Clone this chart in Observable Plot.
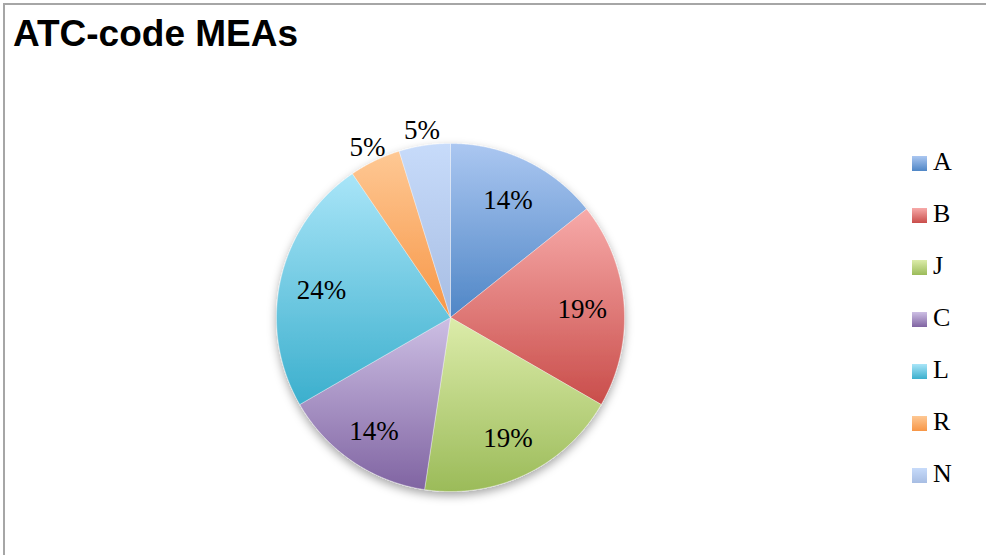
<!DOCTYPE html>
<html>
<head>
<meta charset="utf-8">
<script src="https://cdn.jsdelivr.net/npm/d3@7"></script>
<script src="https://cdn.jsdelivr.net/npm/@observablehq/plot@0.6"></script>
<style>
  html, body { margin: 0; padding: 0; background: #fff; }
  #wrap { position: relative; width: 986px; height: 555px; overflow: hidden; background: #fff; }
  #frame { position: absolute; left: 3px; top: 3px; width: 990px; height: 560px; border-top: 2px solid #a6a6a6; border-left: 2px solid #a6a6a6; box-sizing: border-box; }
  #title { position: absolute; left: 13px; top: 15px; font: bold 37px "Liberation Sans", Arial, sans-serif; line-height: 37px; color: #000; white-space: nowrap; }
  #chart { position: absolute; left: 0; top: 0; }
  #legend { position: absolute; left: 912px; top: 0; }
  .item { position: absolute; left: 0; display: flex; align-items: center; height: 26px; white-space: nowrap; }
  .sw { width: 15px; height: 15px; margin-right: 6px; margin-top: 2px; }
  .lt { font: 26px "Liberation Serif", "Times New Roman", serif; color: #000; line-height: 26px; }
</style>
</head>
<body>
<div id="wrap">
  <div id="frame"></div>
  <div id="chart"></div>
  <div id="title">ATC-code MEAs</div>
  <div id="legend"></div>
</div>
<script>
// ---- data ----
const categories = ["A", "B", "J", "C", "L", "R", "N"];
const counts = [3, 4, 4, 3, 5, 1, 1];
const pctLabels = ["14%", "19%", "19%", "14%", "24%", "5%", "5%"];
const topColors = ["#abc7f1", "#f7aaa9", "#dcecaa", "#cdbfe4", "#a9e5f8", "#fec894", "#c7dbfa"];
const bottomColors = ["#4f86c6", "#c94d4a", "#9bbb59", "#8064a2", "#3bafcd", "#f79646", "#a7bde3"];
const labelRadius = [0.76, 0.76, 0.76, 0.78, 0.76, 1.1, 1.1];

// ---- geometry (pie built from counts) ----
const W = 986, H = 555, cx = 450, cy = 317, R = 174;
const arcs = d3.pie().sort(null).value(d => d)(counts);
const pts = [];
arcs.forEach((a, i) => {
  const k = categories[i];
  pts.push({key: k, x: 0, y: 0});
  const n = Math.max(2, Math.ceil((a.endAngle - a.startAngle) / 0.005));
  for (let j = 0; j <= n; j++) {
    const t = a.startAngle + (a.endAngle - a.startAngle) * j / n;
    pts.push({key: k, x: Math.sin(t), y: Math.cos(t)});
  }
  pts.push({key: k, x: 0, y: 0});
});
const labelData = arcs.map((a, i) => {
  const m = (a.startAngle + a.endAngle) / 2;
  return {text: pctLabels[i], x: labelRadius[i] * Math.sin(m), y: labelRadius[i] * Math.cos(m)};
});

const chart = Plot.plot({
  width: W, height: H, margin: 0,
  x: {domain: [-cx / R, (W - cx) / R], axis: null},
  y: {domain: [-(H - cy) / R, cy / R], axis: null},
  color: {type: "ordinal", domain: categories, range: categories.map(k => `url(#grad-${k})`)},
  style: {background: "transparent", fontFamily: "'Liberation Serif', serif"},
  marks: [
    Plot.line(pts, {x: "x", y: "y", z: "key", fill: "key", stroke: "#ffffff", strokeOpacity: 0.35, strokeWidth: 1, curve: "linear"}),
    Plot.text(labelData, {x: "x", y: "y", text: "text", fontSize: 27, fill: "#000", fontFamily: "'Liberation Serif', serif", dy: 2})
  ]
});

const svg = d3.select(chart);
const defs = svg.insert("defs", ":first-child");
categories.forEach((k, i) => {
  const g = defs.append("linearGradient").attr("id", `grad-${k}`)
    .attr("x1", 0).attr("y1", 0).attr("x2", 0).attr("y2", 1);
  g.append("stop").attr("offset", "0%").attr("stop-color", topColors[i]);
  g.append("stop").attr("offset", "100%").attr("stop-color", bottomColors[i]);
});
const f = defs.append("filter").attr("id", "shadow").attr("x", "-20%").attr("y", "-20%").attr("width", "140%").attr("height", "140%");
f.append("feDropShadow").attr("dx", 0).attr("dy", 4).attr("stdDeviation", 5).attr("flood-color", "#000").attr("flood-opacity", 0.35);
svg.select('g[aria-label="line"]').attr("filter", "url(#shadow)");

document.getElementById("chart").appendChild(chart);

// ---- legend ----
const legend = document.getElementById("legend");
categories.forEach((k, i) => {
  const it = document.createElement("div");
  it.className = "item";
  it.style.top = (162 + 52 * i - 13) + "px";
  it.innerHTML = `<div class="sw" style="background:linear-gradient(${topColors[i]}, ${bottomColors[i]})"></div><span class="lt">${k}</span>`;
  legend.appendChild(it);
});
</script>
</body>
</html>
